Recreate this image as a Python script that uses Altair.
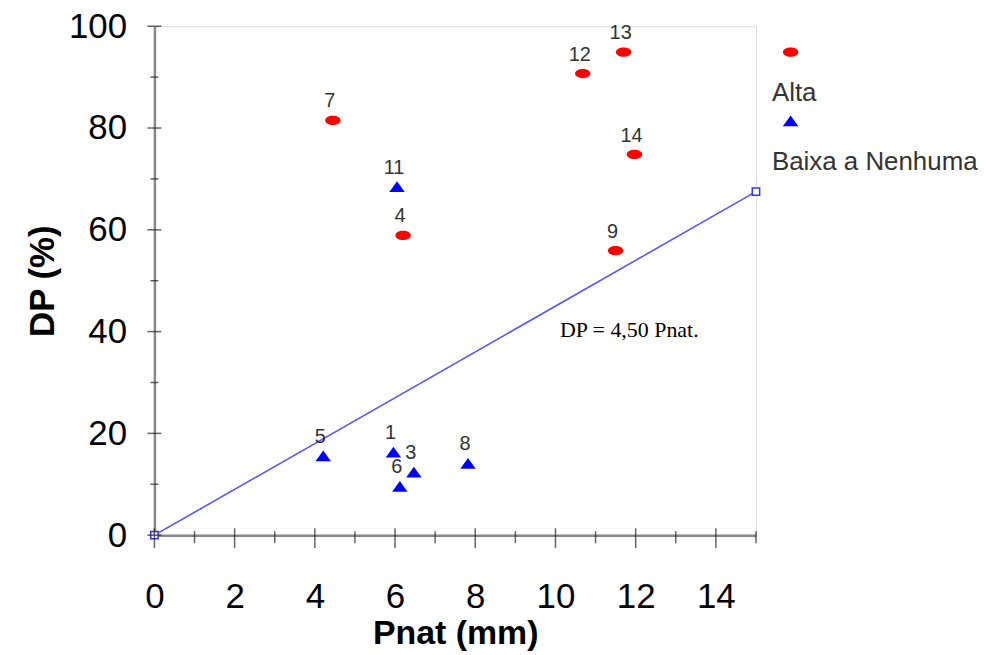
import altair as alt
import pandas as pd

# ---- data ----
alta_ids = ["4", "7", "9", "12", "13", "14"]
alta_x = [6.20, 4.45, 11.50, 10.68, 11.70, 11.97]
alta_y = [58.9, 81.5, 55.9, 90.7, 94.9, 74.8]

baixa_ids = ["1", "3", "5", "6", "8", "11"]
baixa_x = [5.96, 6.47, 4.21, 6.12, 7.82, 6.05]
baixa_y = [16.3, 12.4, 15.6, 9.6, 14.1, 68.5]

groups = ["Alta", "Baixa a Nenhuma"]

line_x = [0, 15]
line_y = [0, 67.5]

eq_text = ["DP = 4,50 Pnat."]
eq_x = [11.84]
eq_y = [40.3]

x_major = [0, 2, 4, 6, 8, 10, 12, 14]
x_minor = [1, 3, 5, 7, 9, 11, 13, 15]
y_major = [0, 20, 40, 60, 80, 100]
y_minor = [10, 30, 50, 70, 90]

# ---- tables ----
pts = pd.DataFrame({
    "id": alta_ids + baixa_ids,
    "x": alta_x + baixa_x,
    "y": alta_y + baixa_y,
    "grupo": [groups[0]] * len(alta_ids) + [groups[1]] * len(baixa_ids),
})
line_df = pd.DataFrame({"x": line_x, "y": line_y})
eq_df = pd.DataFrame({"t": eq_text, "x": eq_x, "y": eq_y})
xmaj_df = pd.DataFrame({"v": x_major})
xmin_df = pd.DataFrame({"v": x_minor})
ymaj_df = pd.DataFrame({"v": y_major})
ymin_df = pd.DataFrame({"v": y_minor})

W, H = 604, 511
FONT = "Liberation Sans"
SYM_SIZE = 240
SHIFT = 4.1  # symbol path drawn right of origin so the legend symbol sits above its label
SHIFT_PX = SHIFT * (SYM_SIZE ** 0.5) / 2

xs = alt.Scale(domain=[0, 15], nice=False, zero=False)
ys = alt.Scale(domain=[0, 100], nice=False)

ellipse = f"M{SHIFT-1},0A1,0.6,0,1,1,{SHIFT+1},0A1,0.6,0,1,1,{SHIFT-1},0Z"
triangle = f"M{SHIFT},-0.7L{SHIFT+1},0.7L{SHIFT-1},0.7Z"

legend = alt.Legend(
    title=None, orient="none", legendX=594, legendY=13,
    labelFont=FONT, labelFontSize=26, labelColor="#333333",
    labelLimit=400, labelBaseline="top", labelOffset=0,
    labelExpr="['', datum.label]",
    symbolSize=SYM_SIZE, symbolStrokeWidth=0, symbolOffset=0, rowPadding=2,
)

x_axis = alt.Axis(
    values=x_major, title="Pnat (mm)", ticks=False, grid=False,
    labelFont=FONT, labelFontSize=35, labelColor="#000000", labelPadding=45,
    labelFlush=False,
    domainColor="#888888", domainWidth=2.5,
    titleFont=FONT, titleFontSize=34, titleFontWeight="bold", titleColor="#000000",
    titleX=W / 2, titleY=99, titleBaseline="middle",
)
y_axis = alt.Axis(
    values=y_major, title="DP (%)", ticks=False, grid=False,
    labelFont=FONT, labelFontSize=35, labelColor="#000000", labelPadding=28,
    labelFlush=False,
    domainColor="#888888", domainWidth=2.5,
    titleFont=FONT, titleFontSize=35, titleFontWeight="bold", titleColor="#000000",
    titleX=-112, titleY=H / 2, titleBaseline="middle", titleAngle=-90,
)

line = alt.Chart(line_df).mark_line(color="#5555ff", strokeWidth=1.6).encode(
    x=alt.X("x:Q", scale=xs, axis=x_axis),
    y=alt.Y("y:Q", scale=ys, axis=y_axis),
)
line_pts = alt.Chart(line_df).mark_point(
    shape="square", filled=True, fill="#ffffff", stroke="#3333ff",
    strokeWidth=1.5, size=55, opacity=1
).encode(x=alt.X("x:Q", scale=xs), y=alt.Y("y:Q", scale=ys))

points = alt.Chart(pts).mark_point(
    filled=True, size=SYM_SIZE, opacity=1, xOffset=-SHIFT_PX
).encode(
    x=alt.X("x:Q", scale=xs),
    y=alt.Y("y:Q", scale=ys),
    color=alt.Color("grupo:N", scale=alt.Scale(domain=groups, range=["#ff0000", "#0000ff"]), legend=legend),
    shape=alt.Shape("grupo:N", scale=alt.Scale(domain=groups, range=[ellipse, triangle]), legend=legend),
)

labels = alt.Chart(pts).mark_text(
    font=FONT, fontSize=20, color="#333333", dx=-3, dy=-19, baseline="middle"
).encode(x=alt.X("x:Q", scale=xs), y=alt.Y("y:Q", scale=ys), text="id:N")

eq = alt.Chart(eq_df).mark_text(
    font="Liberation Serif", fontSize=22, color="#000000", baseline="middle"
).encode(x=alt.X("x:Q", scale=xs), y=alt.Y("y:Q", scale=ys), text="t:N")

xt_major = alt.Chart(xmaj_df).mark_tick(orient="vertical", size=20, thickness=1.5, color="#222222", yOffset=3).encode(
    x=alt.X("v:Q", scale=xs), y=alt.YDatum(0))
xt_minor = alt.Chart(xmin_df).mark_tick(orient="vertical", size=12, thickness=1.5, color="#222222", yOffset=2).encode(
    x=alt.X("v:Q", scale=xs), y=alt.YDatum(0))
yt_major = alt.Chart(ymaj_df).mark_tick(orient="horizontal", size=14, thickness=1.5, color="#222222").encode(
    y=alt.Y("v:Q", scale=ys), x=alt.XDatum(0))
yt_minor = alt.Chart(ymin_df).mark_tick(orient="horizontal", size=8, thickness=1.5, color="#222222").encode(
    y=alt.Y("v:Q", scale=ys), x=alt.XDatum(0))

chart = alt.layer(
    line, line_pts, xt_major, xt_minor, yt_major, yt_minor, points, labels, eq
).properties(
    width=W, height=H,
    autosize=alt.AutoSizeParams(type="none"),
    padding={"left": 147, "top": 17, "right": 243, "bottom": 119},
).configure_view(
    stroke="#888888", strokeWidth=2.5
).configure(background="#ffffff")

chart.save("out.html", embed_options={"renderer": "svg", "actions": False})
